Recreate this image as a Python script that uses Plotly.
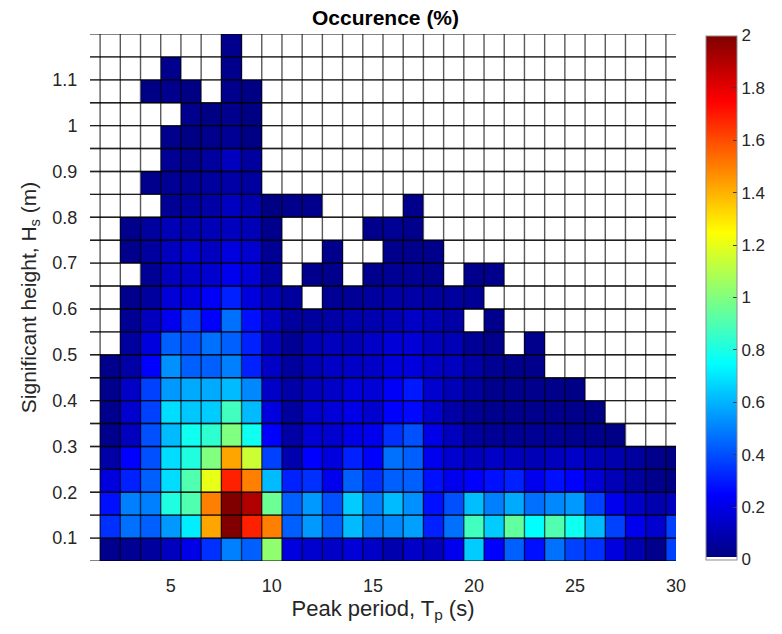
import plotly.graph_objects as go

# Bin centres: peak period (s) and significant wave height (m)
TP = [1, 2, 3, 4, 5, 6, 7, 8, 9, 10, 11, 12, 13, 14, 15, 16, 17, 18, 19, 20,
      21, 22, 23, 24, 25, 26, 27, 28, 29, 30]
HS = [0.075, 0.125, 0.175, 0.225, 0.275, 0.325, 0.375, 0.425, 0.475, 0.525,
      0.575, 0.625, 0.675, 0.725, 0.775, 0.825, 0.875, 0.925, 0.975, 1.025,
      1.075, 1.125, 1.175]

# Occurrence (%) per (Hs, Tp) bin; one list per Hs bin, lowest first.
OCC = [
    [0, .03, .047, .063, .126, .205, .344, .5, .438, 1.03, .189, .157, .142, .173, .142, .094, .142, .126, .22, .65, .25, .438, .28, .47, .375, .344, .189, .094, .031, .375],
    [0, .344, .47, .438, .55, .717, 1.426, 2.0, 1.687, 1.5, .438, .55, .438, .617, .5, .517, .564, .313, .47, .875, .65, .94, .75, .907, .78, .617, .375, .22, .157, .375],
    [0, .28, .5, .5, .81, .907, 1.5, 2.0, 1.905, .96, .438, .55, .407, .65, .5, .617, .533, .28, .407, .625, .5, .583, .47, .517, .55, .375, .22, .142, .094, .126],
    [0, .189, .313, .438, .683, .907, 1.205, 1.687, 1.5, .617, .313, .344, .22, .438, .344, .438, .438, .28, .22, .25, .28, .313, .22, .28, .25, .173, .11, .063, .031, .016],
    [0, .079, .25, .407, .683, .81, 1.0, 1.426, 1.15, .375, .094, .25, .189, .313, .25, .47, .438, .22, .157, .126, .142, .126, .11, .126, .142, .11, .094, .063, .031, .016],
    [0, .031, .126, .407, .617, .78, .84, 1.0, .78, .25, .079, .173, .157, .205, .22, .344, .407, .205, .126, .063, .05, .04, .045, .04, .035, .03, .02, 0, 0, 0],
    [0, .031, .157, .375, .683, .642, .65, .875, .617, .189, .063, .157, .173, .205, .157, .25, .266, .157, .079, .047, .035, .03, .03, .03, .025, .02, 0, 0, 0, 0],
    [0, .031, .142, .375, .55, .583, .583, .617, .517, .142, .079, .126, .142, .189, .173, .236, .297, .157, .11, .063, .03, .03, .03, .025, .02, 0, 0, 0, 0, 0],
    [0, .031, .079, .25, .533, .438, .438, .5, .313, .142, .063, .11, .142, .142, .142, .189, .189, .142, .126, .079, .04, .03, .03, 0, 0, 0, 0, 0, 0, 0],
    [0, 0, .063, .189, .438, .407, .47, .438, .313, .126, .047, .11, .126, .11, .142, .173, .173, .126, .11, .047, .03, 0, .03, 0, 0, 0, 0, 0, 0, 0],
    [0, 0, .047, .126, .22, .37, .25, .47, .28, .142, .063, .063, .079, .094, .094, .11, .142, .11, .079, 0, .03, 0, 0, 0, 0, 0, 0, 0, 0, 0],
    [0, 0, .031, .063, .173, .189, .236, .313, .189, .11, .063, 0, .047, .05, .063, .079, .079, .063, .063, .047, 0, 0, 0, 0, 0, 0, 0, 0, 0, 0],
    [0, 0, 0, .047, .126, .142, .157, .22, .173, .063, 0, .031, .031, 0, .031, .047, .047, .031, 0, .031, .031, 0, 0, 0, 0, 0, 0, 0, 0, 0],
    [0, 0, .031, .063, .126, .157, .126, .189, .157, .047, 0, 0, .031, 0, 0, .031, .031, .031, 0, 0, 0, 0, 0, 0, 0, 0, 0, 0, 0, 0],
    [0, 0, .031, .063, .11, .094, .11, .126, .11, .031, 0, 0, 0, 0, .031, .047, .031, 0, 0, 0, 0, 0, 0, 0, 0, 0, 0, 0, 0, 0],
    [0, 0, 0, 0, .047, .063, .079, .13, .094, .016, .031, .031, 0, 0, 0, 0, .031, 0, 0, 0, 0, 0, 0, 0, 0, 0, 0, 0, 0, 0],
    [0, 0, 0, .031, .047, .05, .063, .08, .063, 0, 0, 0, 0, 0, 0, 0, 0, 0, 0, 0, 0, 0, 0, 0, 0, 0, 0, 0, 0, 0],
    [0, 0, 0, 0, .047, .031, .063, .126, .063, 0, 0, 0, 0, 0, 0, 0, 0, 0, 0, 0, 0, 0, 0, 0, 0, 0, 0, 0, 0, 0],
    [0, 0, 0, 0, .031, .016, .031, .047, .016, 0, 0, 0, 0, 0, 0, 0, 0, 0, 0, 0, 0, 0, 0, 0, 0, 0, 0, 0, 0, 0],
    [0, 0, 0, 0, 0, .031, .016, .031, .016, 0, 0, 0, 0, 0, 0, 0, 0, 0, 0, 0, 0, 0, 0, 0, 0, 0, 0, 0, 0, 0],
    [0, 0, 0, .016, .031, .016, 0, .031, .016, 0, 0, 0, 0, 0, 0, 0, 0, 0, 0, 0, 0, 0, 0, 0, 0, 0, 0, 0, 0, 0],
    [0, 0, 0, 0, .031, 0, 0, .031, 0, 0, 0, 0, 0, 0, 0, 0, 0, 0, 0, 0, 0, 0, 0, 0, 0, 0, 0, 0, 0, 0],
    [0, 0, 0, 0, 0, 0, 0, .031, 0, 0, 0, 0, 0, 0, 0, 0, 0, 0, 0, 0, 0, 0, 0, 0, 0, 0, 0, 0, 0, 0],
]

X_TICKS = [5, 10, 15, 20, 25, 30]
Y_TICKS = [0.1, 0.2, 0.3, 0.4, 0.5, 0.6, 0.7, 0.8, 0.9, 1.0, 1.1]
Y_TICK_TEXT = ["0.1", "0.2", "0.3", "0.4", "0.5", "0.6", "0.7", "0.8", "0.9", "1", "1.1"]
CB_TICKS = [0, 0.2, 0.4, 0.6, 0.8, 1.0, 1.2, 1.4, 1.6, 1.8, 2.0]
CB_TICK_TEXT = ["0", "0.2", "0.4", "0.6", "0.8", "1", "1.2", "1.4", "1.6", "1.8", "2"]

X_RANGE = [1, 30]
Y_RANGE = [0.05, 1.2]

# jet colormap whose lowest entry is white, so empty bins stay blank
JET_WHITE = [
    [0.0, "rgb(255,255,255)"],
    [0.005, "rgb(255,255,255)"],
    [0.005, "rgb(0,0,130)"],
    [0.125, "rgb(0,0,255)"],
    [0.375, "rgb(0,255,255)"],
    [0.625, "rgb(255,255,0)"],
    [0.875, "rgb(255,0,0)"],
    [1.0, "rgb(128,0,0)"],
]

FONT = "Liberation Sans, Arial, Helvetica, sans-serif"
TEXT_COLOR = "#262626"

fig = go.Figure(
    go.Heatmap(
        x=TP,
        y=HS,
        z=OCC,
        zmin=0,
        zmax=2,
        colorscale=JET_WHITE,
        hovertemplate="Tp %{x} s<br>Hs %{y} m<br>%{z:.2f} %<extra></extra>",
        colorbar=dict(
            x=1.0508,
            xanchor="left",
            xpad=0,
            y=0.5,
            yanchor="middle",
            ypad=0,
            len=0.994,
            thickness=31,
            outlinecolor="#8c8c8c",
            outlinewidth=1,
            tickvals=CB_TICKS,
            ticktext=CB_TICK_TEXT,
            ticks="inside",
            ticklen=4,
            tickcolor="#3c3c3c",
            tickfont=dict(family=FONT, size=17, color=TEXT_COLOR),
        ),
    )
)

# Cell edge lines drawn on top of the bins
half_dx = 0.5
half_dy = 0.025
edge_style = dict(color="rgba(0,0,0,0.65)", width=1.4)
for tp in TP[:-1]:
    xe = tp + half_dx
    fig.add_shape(type="line", xref="x", yref="y", x0=xe, x1=xe,
                  y0=Y_RANGE[0], y1=Y_RANGE[1], line=edge_style, layer="above")
for hs in HS:
    for ye in (hs - half_dy, hs + half_dy):
        fig.add_shape(type="line", xref="x", yref="y", x0=X_RANGE[0], x1=X_RANGE[1],
                      y0=ye, y1=ye, line=edge_style, layer="above")

fig.update_layout(
    width=782,
    height=634,
    margin=dict(l=90, r=101, t=34, b=73),
    paper_bgcolor="white",
    plot_bgcolor="white",
    font=dict(family=FONT, color=TEXT_COLOR),
    title=dict(
        text="<b>Occurence (%)</b>",
        x=0.493,
        xanchor="center",
        y=0.972,
        yanchor="middle",
        font=dict(family=FONT, size=21, color="black"),
    ),
    xaxis=dict(
        range=X_RANGE,
        tickvals=X_TICKS,
        ticks="outside",
        ticklen=8,
        tickcolor="rgba(0,0,0,0)",
        tickfont=dict(size=18, color=TEXT_COLOR),
        showgrid=False,
        zeroline=False,
        showline=False,
        title=dict(text="Peak period, T<sub>p</sub> (s)", standoff=5,
                   font=dict(size=22, color=TEXT_COLOR)),
    ),
    yaxis=dict(
        range=Y_RANGE,
        tickvals=Y_TICKS,
        ticktext=Y_TICK_TEXT,
        ticks="outside",
        ticklen=8,
        tickcolor="rgba(0,0,0,0)",
        tickfont=dict(size=18, color=TEXT_COLOR),
        showgrid=False,
        zeroline=False,
        showline=False,
        title=dict(text="Significant height, H<sub>s</sub> (m)", standoff=10,
                   font=dict(size=21, color=TEXT_COLOR)),
    ),
)

fig.write_html("out.html")
